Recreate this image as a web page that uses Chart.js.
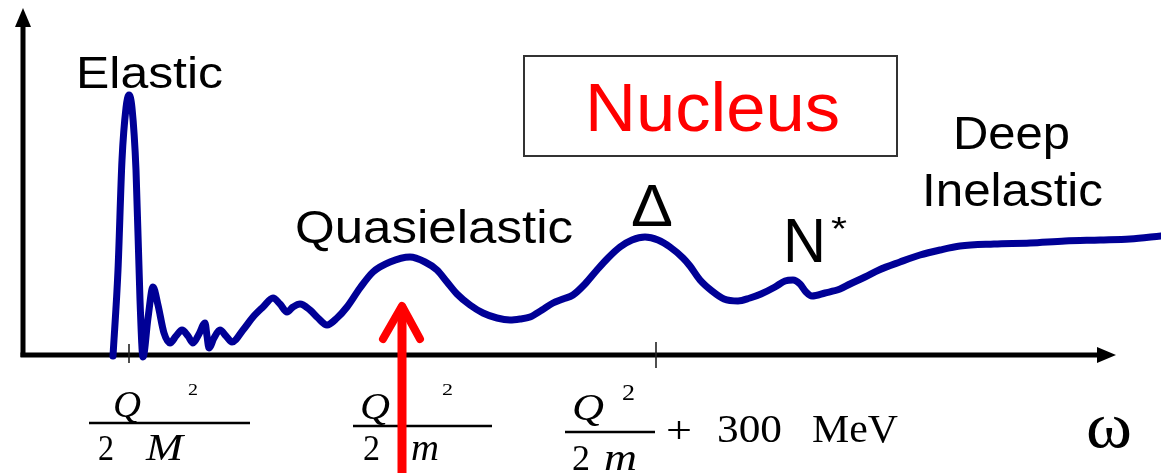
<!DOCTYPE html>
<html>
<head>
<meta charset="utf-8">
<script src="https://cdn.jsdelivr.net/npm/chart.js@4/dist/chart.umd.min.js"></script>
<style>
  html, body { margin: 0; padding: 0; background: #ffffff; }
  #wrap { width: 1161px; height: 473px; }
</style>
</head>
<body>
<div id="wrap"><canvas id="c" width="1161" height="473"></canvas></div>
<script>
// Energy transfer (omega) along the horizontal axis, response strength above the baseline
const omega = [113,118,122,126,129,132,136,140,143,148,153,158,164,170,176,182,188,193,199,
  205,207,209,214,220,226,232,243,253,263,273,280,287,293,300,310,318,327,337,347,
  360,373,390,410,425,437,447,457,470,483,497,510,520,530,542,553,563,573,585,597,
  608,620,632,645,658,670,683,690,700,712,724,738,750,761,775,785,793,800,806,812,
  825,840,850,865,879,900,920,940,960,994,1030,1065,1100,1130,1161];

const response = [-1,85,195,247,260,247,185,55,-2,37,68,50,22,12,19,25,19,12,21,
  32,19,7,17,25,19,13,25,38,48,57,51,43,48,51,45,37,30,37,48,
  67,83,93,98,93,85,73,61,50,42,37,35,36,38,45,52,56,60,71,85,
  97,108,115,118,115,108,97,89,75,64,56,54,57,61,68,74,75,71,63,59,
  62,66,71,78,85,93,100,105,109,111,112,114,115,116,119];

// Positions of the marked thresholds on the omega axis
const tickOmega = [129, 405, 656];

// Omega at which the red marker arrow points
const markerOmega = 402;

const X_MIN = 0, X_MAX = 1161, Y_MIN = -118, Y_MAX = 355;

function fitText(ctx, text, left, baseline, font, width, color) {
  ctx.save();
  ctx.font = font;
  ctx.fillStyle = color || '#000';
  ctx.textAlign = 'left';
  ctx.textBaseline = 'alphabetic';
  const w = ctx.measureText(text).width;
  ctx.translate(left, baseline);
  if (width) ctx.scale(width / w, 1);
  ctx.fillText(text, 0, 0);
  ctx.restore();
}

const axesPlugin = {
  id: 'schematicAxes',
  beforeDatasetsDraw(chart) {
    const { ctx, scales: { x, y } } = chart;
    const x0 = x.getPixelForValue(23);
    const y0 = y.getPixelForValue(0);
    const yTop = y.getPixelForValue(Y_MAX - 8);
    const xEnd = x.getPixelForValue(1116);
    ctx.save();
    ctx.strokeStyle = '#000';
    ctx.fillStyle = '#000';
    ctx.lineWidth = 5;
    ctx.lineCap = 'butt';
    // vertical axis
    ctx.beginPath();
    ctx.moveTo(x0, y0 + 2);
    ctx.lineTo(x0, yTop + 16);
    ctx.stroke();
    ctx.beginPath();
    ctx.moveTo(x0, yTop);
    ctx.lineTo(x0 - 8, yTop + 19);
    ctx.lineTo(x0 + 8, yTop + 19);
    ctx.closePath();
    ctx.fill();
    // horizontal axis
    ctx.beginPath();
    ctx.moveTo(x0 - 2.5, y0);
    ctx.lineTo(xEnd - 16, y0);
    ctx.stroke();
    ctx.beginPath();
    ctx.moveTo(xEnd, y0);
    ctx.lineTo(xEnd - 19, y0 - 8);
    ctx.lineTo(xEnd - 19, y0 + 8);
    ctx.closePath();
    ctx.fill();
    // threshold ticks
    ctx.lineWidth = 1.6;
    ctx.strokeStyle = '#222';
    tickOmega.forEach((t, i) => {
      const px = x.getPixelForValue(t);
      ctx.beginPath();
      ctx.moveTo(px, y0 - (i === 0 ? 11 : 13));
      ctx.lineTo(px, y0 + (i === 0 ? 8 : 13));
      ctx.stroke();
    });
    ctx.restore();
  },
  afterDatasetsDraw(chart) {
    const { ctx, scales: { x, y } } = chart;
    const sans = '"Liberation Sans", Arial, sans-serif';
    const serif = '"Liberation Serif", "Times New Roman", serif';

    // region names
    fitText(ctx, 'Elastic', 76, 88, '44px ' + sans, 147);
    fitText(ctx, 'Quasielastic', 295, 243, '47px ' + sans, 278);
    fitText(ctx, 'Deep', 953, 149, '47px ' + sans, 117);
    fitText(ctx, 'Inelastic', 922, 206, '47px ' + sans, 181);
    fitText(ctx, '\u0394', 631, 226, '60px ' + sans, 42);
    fitText(ctx, 'N', 783, 262, '63px ' + sans, 43);
    fitText(ctx, '*', 831, 240, '34px ' + sans, 16);

    // title box
    ctx.save();
    ctx.strokeStyle = '#333';
    ctx.lineWidth = 2;
    ctx.strokeRect(524, 56, 373, 100);
    ctx.restore();
    fitText(ctx, 'Nucleus', 585, 131, '68px ' + sans, 255, '#ff0000');

    // threshold formulas
    const it = 'italic 38px ' + serif;
    const up = '36px ' + serif;
    ctx.save();
    ctx.strokeStyle = '#000';
    ctx.lineWidth = 2.5;
    [[89, 250, 423], [353, 492, 426], [565, 655, 432]].forEach(([a, b, yy]) => {
      ctx.beginPath(); ctx.moveTo(a, yy); ctx.lineTo(b, yy); ctx.stroke();
    });
    ctx.restore();
    // Q^2 / 2M
    fitText(ctx, 'Q', 113, 417, it, 28);
    fitText(ctx, '2', 188, 395, '16px ' + serif, 10);
    fitText(ctx, '2', 98, 460, up, 16);
    fitText(ctx, 'M', 146, 460, it, 37);
    // Q^2 / 2m
    fitText(ctx, 'Q', 360, 419, it, 30);
    fitText(ctx, '2', 442, 395, '16px ' + serif, 11);
    fitText(ctx, '2', 363, 460, up, 17);
    fitText(ctx, 'm', 411, 460, it, 28);
    // Q^2 / 2m + 300 MeV
    fitText(ctx, 'Q', 572, 420, it, 32);
    fitText(ctx, '2', 622, 400, '24px ' + serif, 13);
    fitText(ctx, '2', 572, 470, up, 18);
    fitText(ctx, 'm', 604, 470, it, 33);
    fitText(ctx, '+', 666, 443, '38px ' + serif, 26);
    fitText(ctx, '300', 717, 442, '41px ' + serif, 65);
    fitText(ctx, 'MeV', 812, 442, '41px ' + serif, 86);
    fitText(ctx, '\u03C9', 1086, 447, '66px ' + serif, 46);

    // red marker arrow
    const ax = x.getPixelForValue(markerOmega);
    const tip = y.getPixelForValue(50);
    ctx.save();
    ctx.strokeStyle = '#ff0000';
    ctx.lineCap = 'round';
    ctx.lineJoin = 'round';
    ctx.lineWidth = 9;
    ctx.beginPath();
    ctx.moveTo(ax, 480);
    ctx.lineTo(ax, tip + 3);
    ctx.stroke();
    ctx.lineWidth = 8;
    ctx.beginPath();
    ctx.moveTo(ax - 19, tip + 34);
    ctx.lineTo(ax, tip + 1);
    ctx.lineTo(ax + 18, tip + 34);
    ctx.stroke();
    ctx.restore();
  }
};

new Chart(document.getElementById('c'), {
  type: 'line',
  data: {
    datasets: [{
      data: omega.map((w, i) => ({ x: w, y: response[i] })),
      borderColor: '#000096',
      borderWidth: 7,
      borderJoinStyle: 'round',
      borderCapStyle: 'round',
      cubicInterpolationMode: 'monotone',
      pointRadius: 0,
      fill: false
    }]
  },
  options: {
    responsive: false,
    animation: false,
    devicePixelRatio: 1,
    layout: { padding: 0 },
    scales: {
      x: { type: 'linear', min: X_MIN, max: X_MAX, display: false },
      y: { type: 'linear', min: Y_MIN, max: Y_MAX, display: false }
    },
    plugins: { legend: { display: false }, tooltip: { enabled: false } }
  },
  plugins: [axesPlugin]
});
</script>
</body>
</html>
